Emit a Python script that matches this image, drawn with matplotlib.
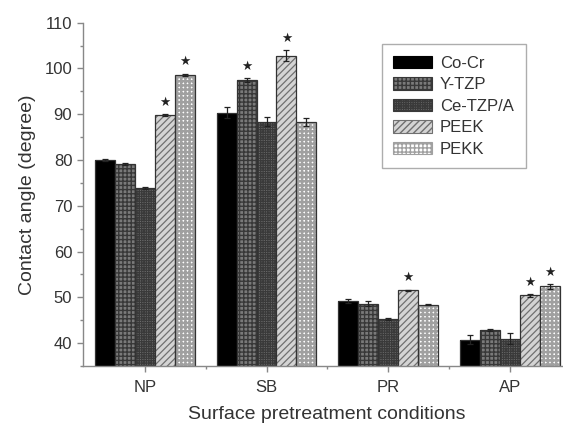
import matplotlib
matplotlib.use("Agg")
import matplotlib.pyplot as plt
import numpy as np

plt.rcParams['font.family'] = ['Liberation Sans', 'DejaVu Sans']

conditions = ["NP", "SB", "PR", "AP"]
materials = ["Co-Cr", "Y-TZP", "Ce-TZP/A", "PEEK", "PEKK"]

co_cr = [80.0, 90.3, 49.2, 40.7]
y_tzp = [79.2, 97.5, 48.6, 42.8]
ce_tzp = [73.9, 88.4, 45.3, 41.0]
peek = [89.8, 102.8, 51.5, 50.4]
pekk = [98.6, 88.3, 48.4, 52.4]

co_cr_err = [0.2, 1.2, 0.5, 1.0]
y_tzp_err = [0.2, 0.4, 0.6, 0.2]
ce_tzp_err = [0.2, 0.9, 0.2, 1.1]
peek_err = [0.2, 1.2, 0.2, 0.3]
pekk_err = [0.2, 0.8, 0.1, 0.5]

# significance markers (True = star)
co_cr_sig = [False, False, False, False]
y_tzp_sig = [False, True, False, False]
ce_tzp_sig = [False, False, False, False]
peek_sig = [True, True, True, True]
pekk_sig = [True, False, False, True]

series = [co_cr, y_tzp, ce_tzp, peek, pekk]
errors = [co_cr_err, y_tzp_err, ce_tzp_err, peek_err, pekk_err]
sigs = [co_cr_sig, y_tzp_sig, ce_tzp_sig, peek_sig, pekk_sig]

styles = [
    dict(facecolor="#000000", edgecolor="#000000", hatch=None, hlw=1.0),
    dict(facecolor="#7a7a7a", edgecolor="#383838", hatch="++++", hlw=1.0),
    dict(facecolor="#6c6c6c", edgecolor="#3a3a3a", hatch="+++++++", hlw=0.9),
    dict(facecolor="#d4d4d4", edgecolor="#707070", hatch="/////", hlw=0.9),
    dict(facecolor="#ffffff", edgecolor="#a0a0a0", hatch="++++", hlw=1.8),
]

fig = plt.figure(figsize=(5.63, 4.23), dpi=100)
ax = fig.add_axes([0.1469, 0.1348, 0.867, 0.8115])

x = np.arange(len(conditions))
width = 0.164
handles = []
for i, (vals, errs, sg, st) in enumerate(zip(series, errors, sigs, styles)):
    pos = x + (i - 2) * width
    with plt.rc_context({'hatch.linewidth': st['hlw']}):
        bc = ax.bar(pos, vals, width, label=materials[i], linewidth=0,
                    facecolor=st['facecolor'], edgecolor=st['edgecolor'],
                    hatch=st['hatch'])
    ax.bar(pos, vals, width, facecolor='none', edgecolor='#333333', linewidth=0.9)
    handles.append(bc)
    ax.errorbar(pos, vals, yerr=errs, fmt='none', ecolor='#222222', elinewidth=0.9,
                capsize=2.5, capthick=0.9)
    for p, v, e, s in zip(pos, vals, errs, sg):
        if s:
            ax.annotate("★", (p, v + e), xytext=(0, 4), textcoords="offset points",
                        ha="center", va="bottom", fontsize=9, color="#222222",
                        family="DejaVu Sans")

ax.set_xlim(-0.51, 3.5)
ax.set_ylim(35, 110)
ax.set_yticks([40, 50, 60, 70, 80, 90, 100, 110])
ax.set_yticks(np.arange(35, 111, 5), minor=True)
ax.set_xticks(x)
ax.set_xticks(x[:-1] + 0.5, minor=True)
ax.set_xticklabels(conditions)

for side in ["top", "right"]:
    ax.spines[side].set_visible(False)
for side in ["left", "bottom"]:
    ax.spines[side].set_color("#888888")
    ax.spines[side].set_linewidth(1.0)

ax.tick_params(axis="both", which="major", direction="out", length=4, width=1,
               color="#888888", labelsize=12, labelcolor="#333333")
ax.tick_params(axis="both", which="minor", direction="out", length=2.5, width=1,
               color="#888888")
ax.tick_params(axis="x", which="major", pad=6)

ax.set_xlabel("Surface pretreatment conditions", fontsize=14, color="#333333", labelpad=8)
ax.set_ylabel("Contact angle (degree)", fontsize=14, color="#333333", labelpad=6)

leg = ax.legend(handles=handles, labels=materials, loc="upper left",
                bbox_to_anchor=(0.678, 0.896), borderaxespad=0,
                bbox_transform=fig.transFigure, fontsize=12, frameon=True,
                fancybox=False, edgecolor="#999999", handlelength=2.3,
                handleheight=0.8, labelspacing=0.38, borderpad=0.7,
                handletextpad=0.5)
leg.get_frame().set_linewidth(1.0)
for t in leg.get_texts():
    t.set_color("#333333")
for h in leg.legend_handles:
    h.set_linewidth(0.8)

fig.savefig("out.png", dpi=100)
